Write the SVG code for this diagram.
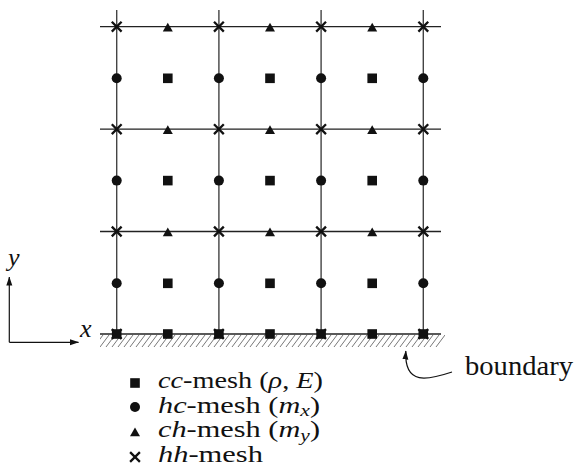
<svg xmlns="http://www.w3.org/2000/svg" xmlns:xlink="http://www.w3.org/1999/xlink" width="574" height="471" viewBox="0 0 574 471">
<style>
.vl{stroke:#444;stroke-width:1.4;fill:none}
.hl{stroke:#222;stroke-width:1.3;fill:none}
.ax{stroke:#111;stroke-width:1.2;fill:none}
.hatch{stroke:#777;stroke-width:1;fill:none}
.mk{fill:#111}
.xm{stroke:#111;stroke-width:2.3;fill:none}
.t{font-family:'Liberation Serif', 'Times New Roman', serif;fill:#111}
.it{font-style:italic}
</style>
<defs>
<marker id="arr" markerUnits="userSpaceOnUse" markerWidth="9" markerHeight="7" refX="8.5" refY="3" orient="auto">
<path d="M0,0 L9,3 L0,6 z" fill="#111"/>
</marker>
<rect id="sq" x="-4.8" y="-4.8" width="9.6" height="9.6" class="mk"/>
<circle id="ci" r="5" class="mk"/>
<path id="tr" d="M0,-3.9 L5,4.8 L-5,4.8 z" class="mk"/>
<path id="cr" d="M-4.9,-4.9 L4.9,4.9 M4.9,-4.9 L-4.9,4.9" class="xm"/>
<clipPath id="hc"><rect x="100" y="334" width="345" height="14"/></clipPath>
</defs>

<g id="connectors">
<path class="vl" d="M116.7,10 V334 M218.9,10 V334 M321.1,10 V334 M423.3,10 V334"/>
<path class="hl" d="M100,26.7 H441 M100,129.2 H441 M100,231.5 H441"/>
<path id="boundary-line" class="hl" d="M100,334 H441"/>
<path id="hatching" class="hatch" clip-path="url(#hc)" d="M94,347 l9,-12 m-3,12 l9,-12 m-3,12 l9,-12 m-3,12 l9,-12 m-3,12 l9,-12 m-3,12 l9,-12 m-3,12 l9,-12 m-3,12 l9,-12 m-3,12 l9,-12 m-3,12 l9,-12 m-3,12 l9,-12 m-3,12 l9,-12 m-3,12 l9,-12 m-3,12 l9,-12 m-3,12 l9,-12 m-3,12 l9,-12 m-3,12 l9,-12 m-3,12 l9,-12 m-3,12 l9,-12 m-3,12 l9,-12 m-3,12 l9,-12 m-3,12 l9,-12 m-3,12 l9,-12 m-3,12 l9,-12 m-3,12 l9,-12 m-3,12 l9,-12 m-3,12 l9,-12 m-3,12 l9,-12 m-3,12 l9,-12 m-3,12 l9,-12 m-3,12 l9,-12 m-3,12 l9,-12 m-3,12 l9,-12 m-3,12 l9,-12 m-3,12 l9,-12 m-3,12 l9,-12 m-3,12 l9,-12 m-3,12 l9,-12 m-3,12 l9,-12 m-3,12 l9,-12 m-3,12 l9,-12 m-3,12 l9,-12 m-3,12 l9,-12 m-3,12 l9,-12 m-3,12 l9,-12 m-3,12 l9,-12 m-3,12 l9,-12 m-3,12 l9,-12 m-3,12 l9,-12 m-3,12 l9,-12 m-3,12 l9,-12 m-3,12 l9,-12 m-3,12 l9,-12 m-3,12 l9,-12 m-3,12 l9,-12 m-3,12 l9,-12 m-3,12 l9,-12 m-3,12 l9,-12"/>
<path id="y-axis" class="ax" d="M9.3,342.3 V277" marker-end="url(#arr)"/>
<path id="x-axis" class="ax" d="M9.3,342.3 H78.5" marker-end="url(#arr)"/>
<path id="boundary-arrow" class="ax" d="M452,372 C428,380 404,386 405.8,351" marker-end="url(#arr)"/>
</g>

<g id="hh-nodes">
<use id="hh00" href="#cr" x="116.7" y="26.7"/><use id="hh10" href="#cr" x="218.9" y="26.7"/><use id="hh20" href="#cr" x="321.1" y="26.7"/><use id="hh30" href="#cr" x="423.3" y="26.7"/>
<use id="hh01" href="#cr" x="116.7" y="129.2"/><use id="hh11" href="#cr" x="218.9" y="129.2"/><use id="hh21" href="#cr" x="321.1" y="129.2"/><use id="hh31" href="#cr" x="423.3" y="129.2"/>
<use id="hh02" href="#cr" x="116.7" y="231.5"/><use id="hh12" href="#cr" x="218.9" y="231.5"/><use id="hh22" href="#cr" x="321.1" y="231.5"/><use id="hh32" href="#cr" x="423.3" y="231.5"/>
<use id="hh03" href="#cr" x="116.7" y="334"/><use id="hh13" href="#cr" x="218.9" y="334"/><use id="hh23" href="#cr" x="321.1" y="334"/><use id="hh33" href="#cr" x="423.3" y="334"/>
</g>

<g id="ch-nodes">
<use id="ch00" href="#tr" x="167.8" y="26.7"/><use id="ch10" href="#tr" x="270" y="26.7"/><use id="ch20" href="#tr" x="372.2" y="26.7"/>
<use id="ch01" href="#tr" x="167.8" y="129.2"/><use id="ch11" href="#tr" x="270" y="129.2"/><use id="ch21" href="#tr" x="372.2" y="129.2"/>
<use id="ch02" href="#tr" x="167.8" y="231.5"/><use id="ch12" href="#tr" x="270" y="231.5"/><use id="ch22" href="#tr" x="372.2" y="231.5"/>
</g>

<g id="hc-nodes">
<use id="hc00" href="#ci" x="116.7" y="78.3"/><use id="hc10" href="#ci" x="218.9" y="78.3"/><use id="hc20" href="#ci" x="321.1" y="78.3"/><use id="hc30" href="#ci" x="423.3" y="78.3"/>
<use id="hc01" href="#ci" x="116.7" y="180.6"/><use id="hc11" href="#ci" x="218.9" y="180.6"/><use id="hc21" href="#ci" x="321.1" y="180.6"/><use id="hc31" href="#ci" x="423.3" y="180.6"/>
<use id="hc02" href="#ci" x="116.7" y="283.3"/><use id="hc12" href="#ci" x="218.9" y="283.3"/><use id="hc22" href="#ci" x="321.1" y="283.3"/><use id="hc32" href="#ci" x="423.3" y="283.3"/>
</g>

<g id="cc-nodes">
<use id="cc00" href="#sq" x="167.8" y="78.3"/><use id="cc10" href="#sq" x="270" y="78.3"/><use id="cc20" href="#sq" x="372.2" y="78.3"/>
<use id="cc01" href="#sq" x="167.8" y="180.6"/><use id="cc11" href="#sq" x="270" y="180.6"/><use id="cc21" href="#sq" x="372.2" y="180.6"/>
<use id="cc02" href="#sq" x="167.8" y="283.3"/><use id="cc12" href="#sq" x="270" y="283.3"/><use id="cc22" href="#sq" x="372.2" y="283.3"/>
<use id="ccb0" href="#sq" x="116.7" y="334"/><use id="ccb1" href="#sq" x="167.8" y="334"/><use id="ccb2" href="#sq" x="218.9" y="334"/><use id="ccb3" href="#sq" x="270" y="334"/><use id="ccb4" href="#sq" x="321.1" y="334"/><use id="ccb5" href="#sq" x="372.2" y="334"/><use id="ccb6" href="#sq" x="423.3" y="334"/>
</g>

<g id="axis-labels">
<text class="t it" font-family="Liberation Serif, serif" x="8" y="266" font-size="26">y</text>
<text class="t it" font-family="Liberation Serif, serif" x="80" y="337" font-size="26">x</text>
</g>

<g id="boundary-label">
<text class="t" font-family="Liberation Serif, serif" x="465" y="375" font-size="26.5" textLength="108" lengthAdjust="spacingAndGlyphs">boundary</text>
</g>

<g id="legend">
<use href="#sq" x="135" y="383"/>
<use href="#ci" x="135" y="407"/>
<use href="#tr" x="135" y="431.5"/>
<use href="#cr" x="135" y="457"/>
<text class="t" font-family="Liberation Serif, serif" x="158" y="388" font-size="22.5" textLength="165" lengthAdjust="spacingAndGlyphs"><tspan class="it">cc</tspan>-mesh (<tspan class="it">ρ</tspan>, <tspan class="it">E</tspan>)</text>
<text class="t" font-family="Liberation Serif, serif" x="158" y="412.5" font-size="22.5" textLength="162" lengthAdjust="spacingAndGlyphs"><tspan class="it">hc</tspan>-mesh (<tspan class="it">m</tspan><tspan class="it" font-size="16" dy="3.5">x</tspan><tspan dy="-3.5">)</tspan></text>
<text class="t" font-family="Liberation Serif, serif" x="158" y="437" font-size="22.5" textLength="162" lengthAdjust="spacingAndGlyphs"><tspan class="it">ch</tspan>-mesh (<tspan class="it">m</tspan><tspan class="it" font-size="16" dy="3.5">y</tspan><tspan dy="-3.5">)</tspan></text>
<text class="t" font-family="Liberation Serif, serif" x="158" y="462" font-size="22.5" textLength="105" lengthAdjust="spacingAndGlyphs"><tspan class="it">hh</tspan>-mesh</text>
</g>
</svg>
